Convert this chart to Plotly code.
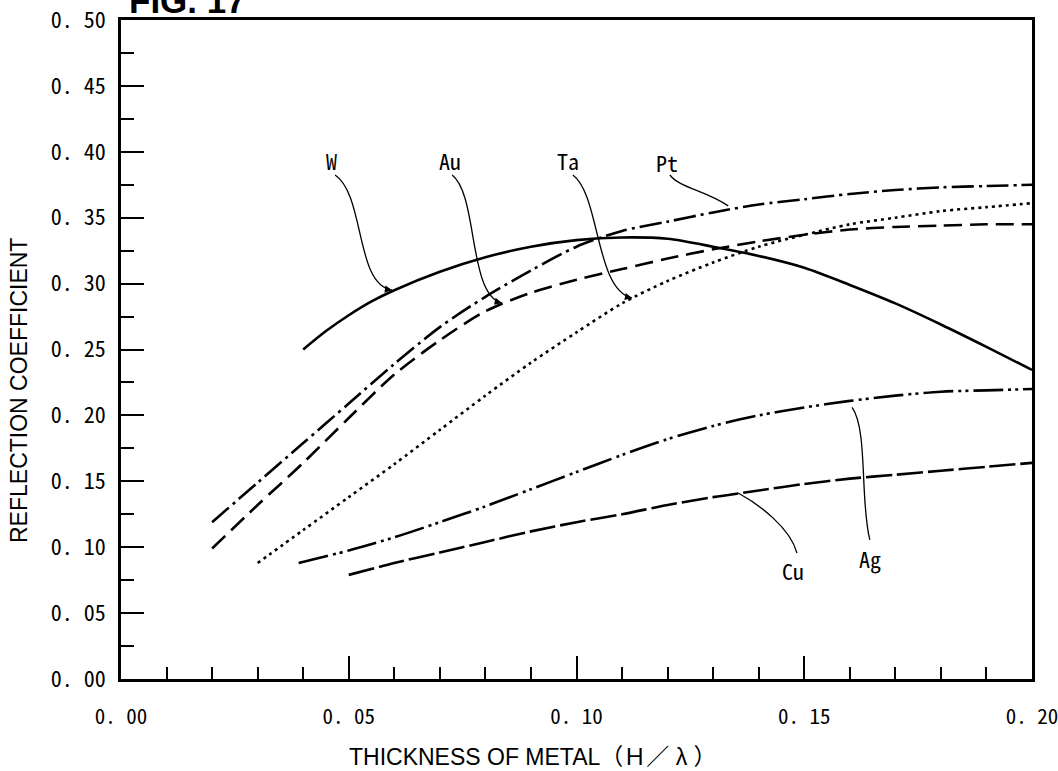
import plotly.graph_objects as go

# Reflection coefficient versus normalised electrode thickness H/λ for each metal
W_X = [0.04, 0.045, 0.05, 0.055, 0.06, 0.07, 0.08, 0.09, 0.10, 0.11, 0.12, 0.13, 0.14, 0.15, 0.16, 0.17, 0.18, 0.19, 0.20]
W_Y = [0.250, 0.264, 0.276, 0.2865, 0.295, 0.309, 0.320, 0.328, 0.333, 0.335, 0.334, 0.328, 0.321, 0.312, 0.299, 0.285, 0.269, 0.252, 0.2345]

PT_X = [0.02, 0.03, 0.04, 0.05, 0.06, 0.07, 0.08, 0.09, 0.10, 0.11, 0.12, 0.13, 0.14, 0.15, 0.16, 0.17, 0.18, 0.19, 0.20]
PT_Y = [0.119, 0.149, 0.179, 0.209, 0.239, 0.267, 0.290, 0.310, 0.328, 0.340, 0.347, 0.354, 0.360, 0.364, 0.368, 0.371, 0.373, 0.374, 0.375]

AU_X = [0.02, 0.03, 0.04, 0.05, 0.06, 0.07, 0.08, 0.09, 0.10, 0.11, 0.12, 0.13, 0.14, 0.15, 0.16, 0.17, 0.18, 0.19, 0.20]
AU_Y = [0.099, 0.132, 0.164, 0.198, 0.231, 0.257, 0.279, 0.293, 0.303, 0.311, 0.319, 0.326, 0.332, 0.337, 0.341, 0.343, 0.344, 0.345, 0.345]

TA_X = [0.03, 0.04, 0.05, 0.06, 0.07, 0.08, 0.09, 0.10, 0.11, 0.12, 0.13, 0.14, 0.15, 0.16, 0.17, 0.18, 0.19, 0.20]
TA_Y = [0.088, 0.113, 0.138, 0.163, 0.189, 0.215, 0.240, 0.263, 0.285, 0.302, 0.316, 0.328, 0.337, 0.345, 0.350, 0.355, 0.358, 0.361]

AG_X = [0.039, 0.05, 0.06, 0.07, 0.08, 0.09, 0.10, 0.11, 0.12, 0.13, 0.14, 0.15, 0.16, 0.17, 0.18, 0.19, 0.20]
AG_Y = [0.088, 0.0975, 0.1075, 0.119, 0.131, 0.144, 0.157, 0.170, 0.182, 0.192, 0.200, 0.206, 0.211, 0.215, 0.218, 0.219, 0.220]

CU_X = [0.05, 0.06, 0.07, 0.08, 0.09, 0.10, 0.11, 0.12, 0.13, 0.14, 0.15, 0.16, 0.17, 0.18, 0.19, 0.20]
CU_Y = [0.079, 0.088, 0.096, 0.104, 0.112, 0.119, 0.125, 0.132, 0.138, 0.143, 0.148, 0.152, 0.155, 0.158, 0.161, 0.164]

X_TICK_VALS = [0.00, 0.05, 0.10, 0.15, 0.20]
X_TICK_TEXT = ["0. 00", "0. 05", "0. 10", "0. 15", "0. 20"]
Y_TICK_VALS = [0.00, 0.05, 0.10, 0.15, 0.20, 0.25, 0.30, 0.35, 0.40, 0.45, 0.50]
Y_TICK_TEXT = ["0. 00", "0. 05", "0. 10", "0. 15", "0. 20", "0. 25",
               "0. 30", "0. 35", "0. 40", "0. 45", "0. 50"]

LABEL_FONT = "Noto Sans Mono CJK JP, Noto Sans CJK JP, DejaVu Sans Mono, monospace"
TITLE_FONT = "Liberation Sans, Arial, Noto Sans CJK JP, sans-serif"

fig = go.Figure()

curves = [
    (W_X, W_Y, "solid"),
    (PT_X, PT_Y, "22px,5px,3px,5px"),
    (AU_X, AU_Y, "18px,8px"),
    (TA_X, TA_Y, "3px,4px"),
    (AG_X, AG_Y, "30px,5px,3px,4px,3px,5px"),
    (CU_X, CU_Y, "26px,5px"),
]
for xs, ys, dash in curves:
    fig.add_trace(go.Scatter(
        x=xs, y=ys, mode="lines", showlegend=False, hoverinfo="skip",
        line=dict(color="black", width=2.6, dash=dash, shape="spline", smoothing=0.8),
    ))

# Curved leader arrows: label text position, then cubic Bezier control points (data units)
leaders = [
    ("W",  (0.0463, 0.394), [(0.0470, 0.3824), (0.0536, 0.3672), (0.0514, 0.2989), (0.0595, 0.2951)]),
    ("Au", (0.0722, 0.394), [(0.0727, 0.3824), (0.0784, 0.3672), (0.0762, 0.2914), (0.0836, 0.2853)]),
    ("Ta", (0.0981, 0.394), [(0.0992, 0.3824), (0.1052, 0.3672), (0.1041, 0.2951), (0.1122, 0.2891)]),
    ("Pt", (0.1199, 0.392), [(0.1205, 0.3824), (0.1227, 0.3725), (0.1282, 0.3710), (0.1333, 0.3590)]),
    ("Cu", (0.1475, 0.083), [(0.1484, 0.0956), (0.1469, 0.1146), (0.1403, 0.1320), (0.1355, 0.1411)]),
    ("Ag", (0.1644, 0.092), [(0.1644, 0.1055), (0.1622, 0.1358), (0.1640, 0.1889), (0.1605, 0.2060)]),
]

shapes = []
annotations = []
for text, (tx, ty), pts in leaders:
    (x0, y0), (x1, y1), (x2, y2), (x3, y3) = pts
    shapes.append(dict(
        type="path", xref="x", yref="y",
        path=f"M {x0},{y0} C {x1},{y1} {x2},{y2} {x3},{y3}",
        line=dict(color="black", width=1.3),
    ))
    # short stub along the final tangent carries the arrowhead
    annotations.append(dict(
        x=x3, y=y3, xref="x", yref="y",
        ax=x3 + 0.12 * (x2 - x3), ay=y3 + 0.12 * (y2 - y3), axref="x", ayref="y",
        text="", showarrow=True, arrowhead=2, arrowsize=1.1, arrowwidth=1.3,
        arrowcolor="black", standoff=0,
    ))
    annotations.append(dict(
        x=tx, y=ty, xref="x", yref="y", text=text, showarrow=False,
        font=dict(family=LABEL_FONT, size=22, color="black"),
        xanchor="center", yanchor="middle",
    ))

# Figure number, partly cut off at the top edge
annotations.append(dict(
    x=0.0066, y=0.997, xref="paper", yref="paper", text="<b>FIG. 17</b>",
    showarrow=False, xanchor="left", yanchor="bottom",
    font=dict(family=TITLE_FONT, size=35, color="black"),
))
# Axis titles
annotations.append(dict(
    x=0.452, y=-0.118, xref="paper", yref="paper",
    text="THICKNESS OF METAL（Ｈ／ λ ）", showarrow=False,
    xanchor="center", yanchor="middle",
    font=dict(family=TITLE_FONT, size=23, color="black"),
))
annotations.append(dict(
    x=-0.112, y=0.4385, xref="paper", yref="paper",
    text="REFLECTION COEFFICIENT", textangle=-90, showarrow=False,
    xanchor="center", yanchor="middle",
    font=dict(family=TITLE_FONT, size=23, color="black"),
))

fig.update_layout(
    width=1058, height=771,
    margin=dict(l=121, r=26, t=20, b=92, pad=0),
    paper_bgcolor="white", plot_bgcolor="white",
    shapes=shapes, annotations=annotations,
    showlegend=False,
)
fig.update_xaxes(
    range=[0, 0.2], showgrid=False, zeroline=False, automargin=False,
    showline=True, linewidth=2.6, linecolor="black", mirror=True,
    ticks="inside", ticklen=23, tickwidth=2, tickcolor="black",
    tickvals=X_TICK_VALS, ticktext=X_TICK_TEXT, ticklabelstandoff=17,
    ticklabeloverflow="allow",
    tickfont=dict(family=LABEL_FONT, size=21, color="black"),
    minor=dict(ticks="inside", ticklen=12, tickwidth=2, tickcolor="black", dtick=0.01, showgrid=False),
)
fig.update_yaxes(
    range=[0, 0.5], showgrid=False, zeroline=False, automargin=False,
    showline=True, linewidth=2.6, linecolor="black", mirror=True,
    ticks="inside", ticklen=23, tickwidth=2, tickcolor="black",
    tickvals=Y_TICK_VALS, ticktext=Y_TICK_TEXT, ticklabelstandoff=8,
    ticklabeloverflow="allow",
    tickfont=dict(family=LABEL_FONT, size=22, color="black"),
    minor=dict(ticks="inside", ticklen=13, tickwidth=2, tickcolor="black", dtick=0.025, showgrid=False),
)

fig.write_html("out.html")
